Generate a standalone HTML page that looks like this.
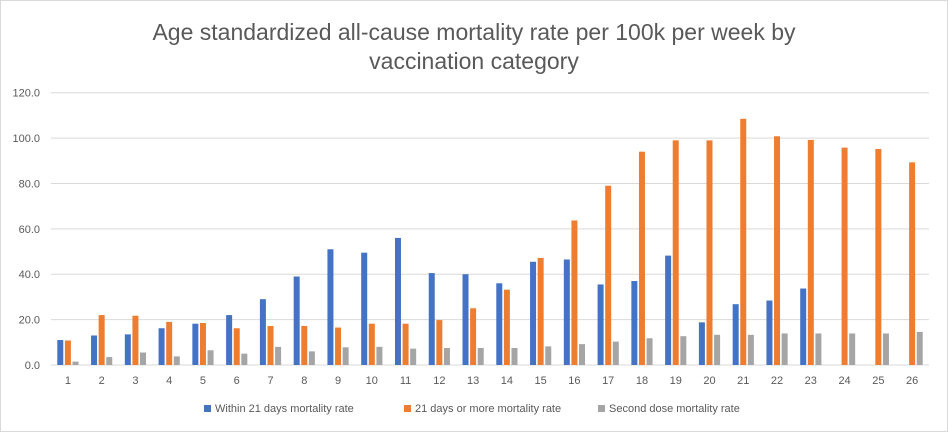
<!DOCTYPE html>
<html><head><meta charset="utf-8"><style>
body{margin:0;background:#fff;font-family:"Liberation Sans",sans-serif}
#c{position:absolute;left:0;top:0;width:946px;height:430px;border:1px solid #d9d9d9}
</style></head><body>
<div id="c">
<svg id="s" width="948" height="432" style="position:absolute;left:-1px;top:-1px"></svg>
</div>
<script>
const categories=["1","2","3","4","5","6","7","8","9","10","11","12","13","14","15","16","17","18","19","20","21","22","23","24","25","26"];
const within21=[11,13,13.5,16.2,18.2,22,29,39,51,49.5,56,40.5,40,36,45.5,46.5,35.5,37,48.2,18.8,26.8,28.4,33.7,null,null,null];
const over21=[10.8,22,21.7,19,18.5,16.2,17.2,17.2,16.5,18.2,18.2,19.8,25,33.2,47.2,63.7,79,94,99,99,108.5,100.8,99.2,95.8,95.2,89.3];
const secondDose=[1.5,3.5,5.5,3.8,6.5,5,8,6,7.8,8,7.2,7.5,7.5,7.5,8.2,9.2,10.3,11.8,12.7,13.3,13.3,13.9,13.9,13.9,13.9,14.6];
const yTicks=[0,20,40,60,80,100,120];
const NS="http://www.w3.org/2000/svg";
const s=document.getElementById('s');
const x0=51,x1=929,y0=365,yTop=92.7,yMax=120;
const band=(x1-x0)/categories.length;
const Y=v=>y0-(v/yMax)*(y0-yTop);
const X=i=>x0+band*(i+0.5);
function mk(t,a){const e=document.createElementNS(NS,t);for(const k in a)e.setAttribute(k,a[k]);s.appendChild(e);return e;}
function txt(x,y,str,size,anchor,fill){const e=mk('text',{x:x,y:y,'font-size':size,'text-anchor':anchor,fill:fill,'font-family':'Liberation Sans, sans-serif'});e.textContent=str;return e;}
let t=txt(474,40,"Age standardized all-cause mortality rate per 100k per week by",23,'middle','#595959');


t=txt(474,69,"vaccination category",23,'middle','#595959');


yTicks.forEach(v=>{
  const g=mk('line',{x1:x0,x2:x1,y1:Y(v),y2:Y(v),stroke:'#d9d9d9','stroke-width':1});
  
  
  const l=txt(40,Y(v)+4,v.toFixed(1),11,'end','#595959');
  
  
});
const series=[[within21,'#4472c4','within'],[over21,'#ed7d31','over21'],[secondDose,'#a5a5a5','second-dose']];
const bw=6,step=7.6;
categories.forEach((c,i)=>{
  series.forEach((sr,j)=>{
    const v=sr[0][i];if(v==null)return;
    const cx=X(i)+(j-1)*step;
    const r=mk('rect',{x:cx-bw/2,y:Y(v),width:bw,height:y0-Y(v),fill:sr[1]});
    
    
  });
  const l=txt(X(i),384,c,11,'middle','#595959');
  
  
});
const leg=[["Within 21 days mortality rate",'#4472c4',204],["21 days or more mortality rate",'#ed7d31',404],["Second dose mortality rate",'#a5a5a5',598]];
leg.forEach(l=>{
  const r=mk('rect',{x:l[2],y:405,width:7,height:7,fill:l[1]});
  
  
  const tt=txt(l[2]+11,412,l[0],11,'start','#595959');
  
  
});
</script>
</body></html>
